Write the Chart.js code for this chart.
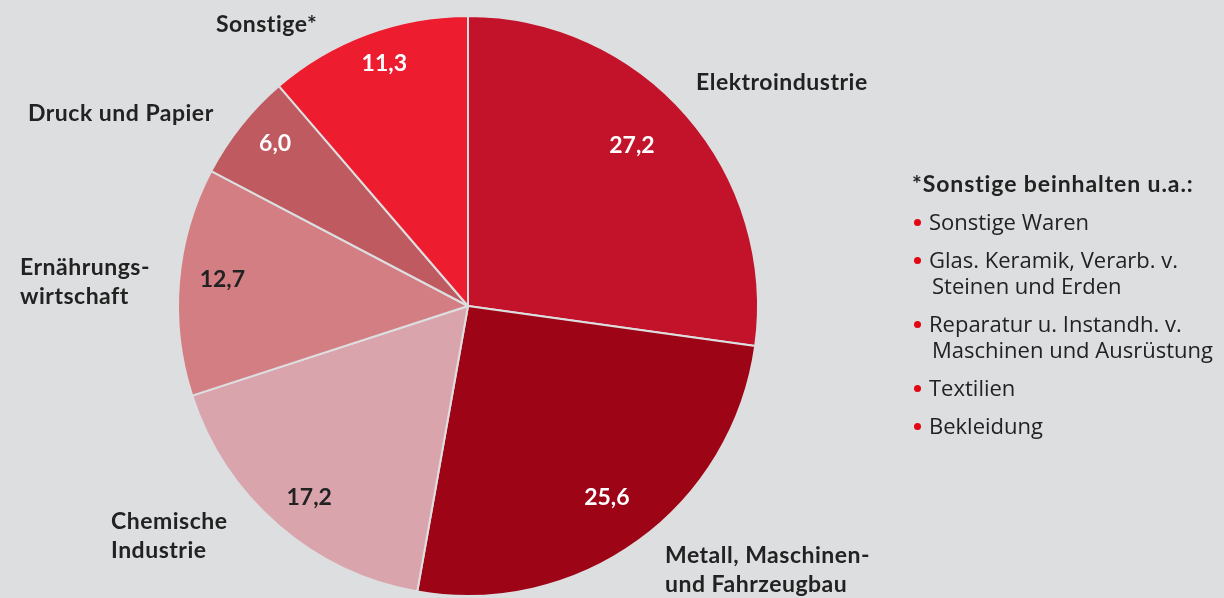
<!DOCTYPE html>
<html>
<head>
<meta charset="utf-8">
<script src="https://cdn.jsdelivr.net/npm/chart.js@4/dist/chart.umd.min.js"></script>
<style>
  html, body { margin: 0; padding: 0; background: #dddee0; }
  #wrap { position: relative; width: 1224px; height: 598px; overflow: hidden; }
  #chart { position: absolute; left: 0; top: 0; }
  .note { position: absolute; left: 912px; top: 169px; font-family: "Open Sans", sans-serif; color: #222; font-size: 22px; }
  .note h3 { margin: 0 0 11px 0; font-family: Lato, sans-serif; font-size: 23px; font-weight: 700; letter-spacing: 0.9px; }
  .note ul { list-style: none; margin: 0; padding: 0; }
  .note li { position: relative; padding-left: 17px; line-height: 26px; margin-bottom: 12px; }
  .note li::before { content: ''; position: absolute; left: 2px; top: 11px; width: 7px; height: 7px; border-radius: 50%; background: #e30613; }
  .note .cont { padding-left: 3px; }
</style>
</head>
<body>
<div id="wrap">
  <canvas id="chart" width="1224" height="598"></canvas>
  <div class="note">
    <h3>*Sonstige beinhalten u.a.:</h3>
    <ul>
      <li>Sonstige Waren</li>
      <li>Glas. Keramik, Verarb. v.<br><span class="cont">Steinen und Erden</span></li>
      <li>Reparatur u. Instandh. v.<br><span class="cont">Maschinen und Ausrüstung</span></li>
      <li>Textilien</li>
      <li>Bekleidung</li>
    </ul>
  </div>
</div>
<script>
const categories = ['Elektroindustrie', 'Metall, Maschinen- und Fahrzeugbau', 'Chemische Industrie', 'Ernährungswirtschaft', 'Druck und Papier', 'Sonstige*']
const shares = [27.2, 25.6, 17.2, 12.7, 6.0, 11.3]
const sliceColors = ['#c3132a', '#9d0516', '#daa4ad', '#d37e83', '#be5a60', '#ed1c2e']
const valueColors = ['#fff', '#fff', '#222', '#222', '#fff', '#fff']

// small shifts of the value labels from the slice middle, in px
const valueNudge = [[-22, 1], [-6, -8], [3, 6], [0, -6], [0, -9], [2, -11]]

// outside labels: lines, x, first baseline y
const nameLabels = [
  { lines: ['Elektroindustrie'], x: 696, y: 90 },
  { lines: ['Metall, Maschinen-', 'und Fahrzeugbau'], x: 665, y: 563 },
  { lines: ['Chemische', 'Industrie'], x: 111, y: 529 },
  { lines: ['Ernährungs-', 'wirtschaft'], x: 20, y: 275 },
  { lines: ['Druck und Papier'], x: 28, y: 121 },
  { lines: ['Sonstige*'], x: 216, y: 32 }
]

const labelPlugin = {
  id: 'pieLabels',
  afterDatasetsDraw (chart) {
    const ctx = chart.ctx
    const meta = chart.getDatasetMeta(0)
    ctx.save()
    ctx.font = 'bold 23px Lato, sans-serif'
    ctx.textBaseline = 'middle'
    ctx.textAlign = 'center'
    meta.data.forEach((arc, i) => {
      const mid = (arc.startAngle + arc.endAngle) / 2
      const r = arc.outerRadius * 0.85
      ctx.fillStyle = valueColors[i]
      ctx.fillText(shares[i].toFixed(1).replace('.', ','),
        arc.x + Math.cos(mid) * r + valueNudge[i][0],
        arc.y + Math.sin(mid) * r + valueNudge[i][1])
    })
    ctx.fillStyle = '#222'
    ctx.textBaseline = 'alphabetic'
    ctx.textAlign = 'left'
    ctx.letterSpacing = '0.5px'
    nameLabels.forEach(l => {
      l.lines.forEach((t, j) => ctx.fillText(t, l.x, l.y + j * 29))
    })
    ctx.restore()
  }
}

const ctx = document.getElementById('chart').getContext('2d')
new Chart(ctx, {
  type: 'pie',
  data: {
    labels: categories,
    datasets: [{
      data: shares,
      backgroundColor: sliceColors,
      borderColor: '#dddee0',
      borderWidth: 2
    }]
  },
  options: {
    responsive: false,
    animation: false,
    radius: 290,
    layout: { padding: { left: 178, right: 466, top: 16, bottom: 2 } },
    plugins: {
      legend: { display: false },
      tooltip: { enabled: false }
    }
  },
  plugins: [labelPlugin]
})
</script>
</body>
</html>
